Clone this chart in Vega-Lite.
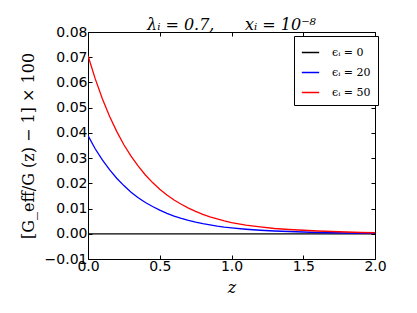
{
  "$schema": "https://vega.github.io/schema/vega-lite/v6.json",
  "width": 287,
  "height": 227,
  "padding": {"left": 88, "top": 32, "right": 42, "bottom": 54},
  "autosize": {"type": "none"},
  "background": "white",
  "config": {
    "view": {"stroke": "black", "strokeWidth": 1},
    "axis": {
      "grid": false,
      "domain": false,
      "tickColor": "black",
      "tickSize": -4,
      "labelFlush": false,
      "labelFont": "DejaVu Sans",
      "labelFontSize": 14,
      "labelColor": "black",
      "titleColor": "black"
    }
  },
  "title": {
    "text": "λᵢ = 0.7,\u00a0\u00a0\u00a0\u00a0\u00a0\u00a0xᵢ = 10⁻⁸",
    "font": "DejaVu Serif",
    "fontSize": 16,
    "fontWeight": "normal",
    "fontStyle": "italic",
    "offset": 4,
    "dy": 12,
    "color": "black"
  },
  "data": {
    "values": [
      {"z": 0, "v": 0, "s": "ϵᵢ = 0"},
      {"z": 2, "v": 0, "s": "ϵᵢ = 0"},
      {"z": 0, "v": 0.0389, "s": "ϵᵢ = 20"},
      {"z": 0.05, "v": 0.0337, "s": "ϵᵢ = 20"},
      {"z": 0.1, "v": 0.0293, "s": "ϵᵢ = 20"},
      {"z": 0.15, "v": 0.0254, "s": "ϵᵢ = 20"},
      {"z": 0.2, "v": 0.022, "s": "ϵᵢ = 20"},
      {"z": 0.25, "v": 0.0191, "s": "ϵᵢ = 20"},
      {"z": 0.3, "v": 0.0165, "s": "ϵᵢ = 20"},
      {"z": 0.35, "v": 0.0143, "s": "ϵᵢ = 20"},
      {"z": 0.4, "v": 0.0124, "s": "ϵᵢ = 20"},
      {"z": 0.45, "v": 0.0108, "s": "ϵᵢ = 20"},
      {"z": 0.5, "v": 0.0094, "s": "ϵᵢ = 20"},
      {"z": 0.55, "v": 0.0081, "s": "ϵᵢ = 20"},
      {"z": 0.6, "v": 0.007, "s": "ϵᵢ = 20"},
      {"z": 0.65, "v": 0.0061, "s": "ϵᵢ = 20"},
      {"z": 0.7, "v": 0.0053, "s": "ϵᵢ = 20"},
      {"z": 0.75, "v": 0.0046, "s": "ϵᵢ = 20"},
      {"z": 0.8, "v": 0.004, "s": "ϵᵢ = 20"},
      {"z": 0.85, "v": 0.0035, "s": "ϵᵢ = 20"},
      {"z": 0.9, "v": 0.003, "s": "ϵᵢ = 20"},
      {"z": 0.95, "v": 0.0026, "s": "ϵᵢ = 20"},
      {"z": 1.0, "v": 0.0023, "s": "ϵᵢ = 20"},
      {"z": 1.1, "v": 0.0018, "s": "ϵᵢ = 20"},
      {"z": 1.2, "v": 0.0014, "s": "ϵᵢ = 20"},
      {"z": 1.3, "v": 0.0011, "s": "ϵᵢ = 20"},
      {"z": 1.4, "v": 0.0009, "s": "ϵᵢ = 20"},
      {"z": 1.5, "v": 0.0007, "s": "ϵᵢ = 20"},
      {"z": 1.6, "v": 0.0005, "s": "ϵᵢ = 20"},
      {"z": 1.7, "v": 0.0004, "s": "ϵᵢ = 20"},
      {"z": 1.8, "v": 0.0003, "s": "ϵᵢ = 20"},
      {"z": 1.9, "v": 0.0002, "s": "ϵᵢ = 20"},
      {"z": 2.0, "v": 0.0002, "s": "ϵᵢ = 20"},
      {"z": 0, "v": 0.0706, "s": "ϵᵢ = 50"},
      {"z": 0.05, "v": 0.0615, "s": "ϵᵢ = 50"},
      {"z": 0.1, "v": 0.0535, "s": "ϵᵢ = 50"},
      {"z": 0.15, "v": 0.0466, "s": "ϵᵢ = 50"},
      {"z": 0.2, "v": 0.0406, "s": "ϵᵢ = 50"},
      {"z": 0.25, "v": 0.0353, "s": "ϵᵢ = 50"},
      {"z": 0.3, "v": 0.0308, "s": "ϵᵢ = 50"},
      {"z": 0.35, "v": 0.0268, "s": "ϵᵢ = 50"},
      {"z": 0.4, "v": 0.0233, "s": "ϵᵢ = 50"},
      {"z": 0.45, "v": 0.0203, "s": "ϵᵢ = 50"},
      {"z": 0.5, "v": 0.0177, "s": "ϵᵢ = 50"},
      {"z": 0.55, "v": 0.0154, "s": "ϵᵢ = 50"},
      {"z": 0.6, "v": 0.0134, "s": "ϵᵢ = 50"},
      {"z": 0.65, "v": 0.0117, "s": "ϵᵢ = 50"},
      {"z": 0.7, "v": 0.0102, "s": "ϵᵢ = 50"},
      {"z": 0.75, "v": 0.0089, "s": "ϵᵢ = 50"},
      {"z": 0.8, "v": 0.0077, "s": "ϵᵢ = 50"},
      {"z": 0.85, "v": 0.0067, "s": "ϵᵢ = 50"},
      {"z": 0.9, "v": 0.0059, "s": "ϵᵢ = 50"},
      {"z": 0.95, "v": 0.0051, "s": "ϵᵢ = 50"},
      {"z": 1.0, "v": 0.0044, "s": "ϵᵢ = 50"},
      {"z": 1.1, "v": 0.0034, "s": "ϵᵢ = 50"},
      {"z": 1.2, "v": 0.0027, "s": "ϵᵢ = 50"},
      {"z": 1.3, "v": 0.0021, "s": "ϵᵢ = 50"},
      {"z": 1.4, "v": 0.0017, "s": "ϵᵢ = 50"},
      {"z": 1.5, "v": 0.0014, "s": "ϵᵢ = 50"},
      {"z": 1.6, "v": 0.0011, "s": "ϵᵢ = 50"},
      {"z": 1.7, "v": 0.0009, "s": "ϵᵢ = 50"},
      {"z": 1.8, "v": 0.0007, "s": "ϵᵢ = 50"},
      {"z": 1.9, "v": 0.0005, "s": "ϵᵢ = 50"},
      {"z": 2.0, "v": 0.0004, "s": "ϵᵢ = 50"}
    ]
  },
  "layer": [
    {
      "mark": {"type": "line", "strokeWidth": 1.3, "clip": true},
      "encoding": {
        "x": {
          "field": "z", "type": "quantitative",
          "scale": {"domain": [0, 2], "nice": false, "zero": false},
          "axis": {"orient": "bottom", "values": [0, 0.5, 1, 1.5, 2], "format": ".1f",
                   "labelPadding": 4, "title": "z", "titleFont": "DejaVu Serif", "titleFontStyle": "italic",
                   "titleFontWeight": "normal", "titleFontSize": 16, "titlePadding": 6}
        },
        "y": {
          "field": "v", "type": "quantitative",
          "scale": {"domain": [-0.01, 0.08], "nice": false, "zero": false},
          "axis": {"orient": "left", "values": [-0.01, 0, 0.01, 0.02, 0.03, 0.04, 0.05, 0.06, 0.07, 0.08],
                   "format": ".2f", "labelPadding": 5,
                   "title": "[G_eff/G (z) − 1] × 100", "titleFont": "DejaVu Serif",
                   "titleFontWeight": "normal", "titleFontSize": 16, "titlePadding": 8}
        },
        "color": {
          "field": "s", "type": "nominal",
          "scale": {"domain": ["ϵᵢ = 0", "ϵᵢ = 20", "ϵᵢ = 50"], "range": ["#000000", "#0000ff", "#ff0000"]},
          "legend": {
            "title": null,
            "orient": "none",
            "legendX": 206,
            "legendY": 4,
            "direction": "vertical",
            "fillColor": "white",
            "strokeColor": "black",
            "padding": 7,
            "symbolType": "stroke",
            "symbolSize": 300,
            "symbolStrokeWidth": 1.5,
            "labelFont": "DejaVu Serif",
            "labelFontSize": 11,
            "labelColor": "black",
            "labelOffset": 12,
            "rowPadding": 5,
            "cornerRadius": 0
          }
        }
      }
    },
    {
      "mark": {"type": "line", "opacity": 0},
      "encoding": {
        "x": {"field": "z", "type": "quantitative",
              "axis": {"orient": "top", "values": [0, 0.5, 1, 1.5, 2], "labels": false, "title": null}},
        "y": {"field": "v", "type": "quantitative",
              "axis": {"orient": "right", "values": [-0.01, 0, 0.01, 0.02, 0.03, 0.04, 0.05, 0.06, 0.07, 0.08], "labels": false, "title": null}},
        "detail": {"field": "s"}
      }
    }
  ]
}
